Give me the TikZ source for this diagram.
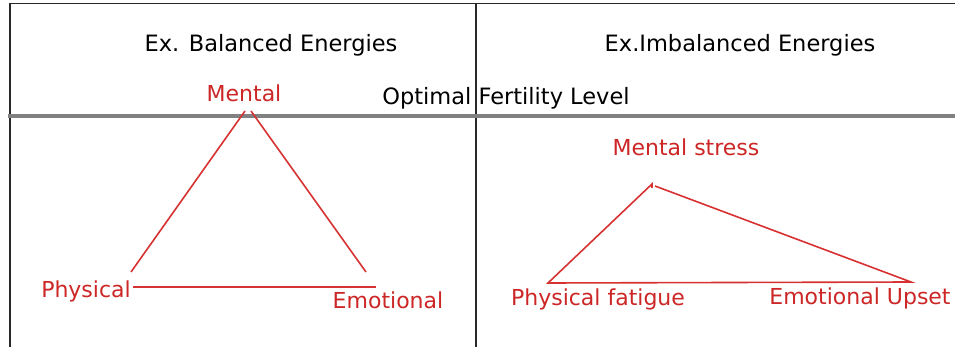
\documentclass[tikz,border=0pt]{standalone}
\usepackage{fontspec}
\setmainfont{DejaVu Sans}
\definecolor{lblred}{RGB}{205,38,38}
\definecolor{linered}{RGB}{215,50,50}
\definecolor{levelgray}{RGB}{128,128,128}
\definecolor{framegray}{RGB}{40,40,40}
\tikzset{
  heading/.style={font=\fontsize{22.5}{26}\selectfont, text=black, inner sep=0pt},
  energy/.style={font=\fontsize{22}{26}\selectfont, text=lblred, inner sep=0pt},
  side/.style={draw=linered, line width=1.6pt},
  frameline/.style={draw=framegray, line width=1.8pt},
  level/.style={draw=levelgray, line width=4pt}
}
\begin{document}
\begin{tikzpicture}[x=1pt,y=-1pt]
\useasboundingbox (0,0) rectangle (955,347);
\fill[white] (0,0) rectangle (955,347);
% frame
\coordinate (tl) at (10,3.5);
\coordinate (tr) at (955,3.5);
\coordinate (bl) at (10,347);
\coordinate (dt) at (476,3.5);
\coordinate (db) at (476,347);
\draw[frameline] (bl) -- (tl) -- (tr);
\draw[frameline] (dt) -- (db);
% level line
\coordinate (lvl) at (8,116.5);
\coordinate (lvr) at (955,116.5);
\draw[level] (lvl) -- (lvr);
% headings
\node[heading] (h1) at (271,45) {Ex. Balanced Energies};
\node[heading] (h2) at (740,45) {Ex.Imbalanced Energies};
\node[heading] (opt) at (506,98) {Optimal Fertility Level};
% left triangle
\node[energy] (mental) at (244,93) {Mental};
\node[energy] (phys) at (86,291) {Physical};
\node[energy] (emo) at (388,300) {Emotional};
\coordinate (la1) at (245,111);
\coordinate (la2) at (251,111);
\coordinate (ll) at (131,272);
\coordinate (lr) at (366,272);
\coordinate (lb1) at (133,287);
\coordinate (lb2) at (376,287);
\draw[side] (la1) -- (ll);
\draw[side] (la2) -- (lr);
\draw[side] (lb1) -- (lb2);
% right triangle
\node[energy] (mstress) at (686,147) {Mental stress};
\node[energy] (pfat) at (598,299) {Physical fatigue};
\node[energy] (eups) at (860,298) {Emotional Upset};
\coordinate (ra) at (652,184);
\coordinate (rat) at (652,188);
\coordinate (ra2) at (655,186);
\coordinate (rl) at (548,283);
\coordinate (rr) at (911,282);
\draw[side] (rat) -- (ra) -- (rl) -- (rr) -- (ra2);
\end{tikzpicture}
\end{document}
